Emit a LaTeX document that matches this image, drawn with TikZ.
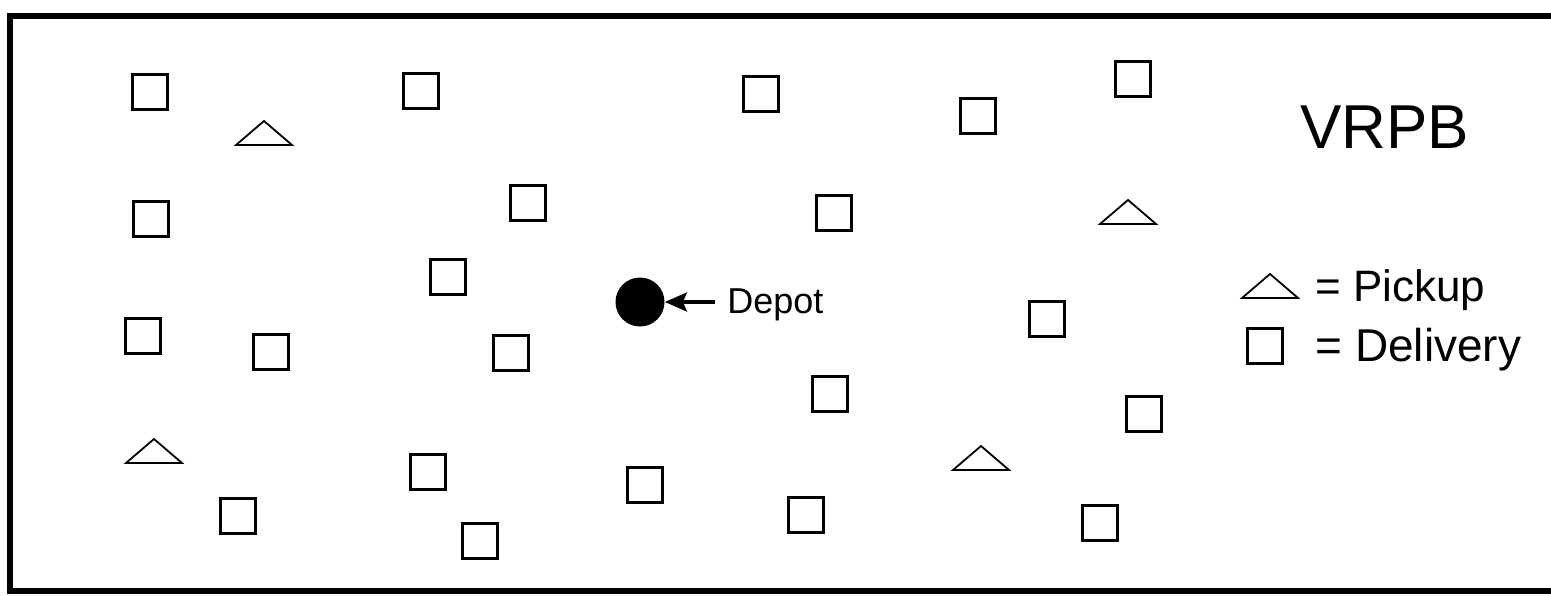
\documentclass[tikz,border=0pt]{standalone}
\usepackage{fontspec}
\setmainfont{Liberation Sans}
\usetikzlibrary{arrows.meta}

\begin{document}
\begin{tikzpicture}[x=0.5pt, y=-0.5pt, >={Stealth[length=11pt, width=9.5pt, inset=2pt]},
			delivery/.style={draw, line width=1.2pt, minimum size=17.6pt, inner sep=0pt},
			depot/.style={circle, fill=black, minimum size=24.5pt, inner sep=0pt},
			pickup/.pic={\draw[line width=0.9pt, line join=miter] (-28,12) -- (0,-12) -- (28,12) -- cycle;},
			frame/.style={line width=2.6pt},
			label/.style={inner sep=0pt, anchor=base west} ]
			\useasboundingbox (0,0) rectangle (1551,595);
			
			%Moldura (sem lado direito)
			\coordinate (TL) at (10,16);
			\coordinate (TR) at (1551,16);
			\coordinate (BL) at (10,591);
			\coordinate (BR) at (1551,591);
			\draw[frame] (TR) -- (TL) -- (BL) -- (BR);
			
			%Clientes de entrega:
			\foreach \x/\y [count=\i] in {150/92, 421/91, 761/94, 978/116, 1133/79,
				151/219, 528/203, 834/213, 448/277,
				143/336, 271/352, 511/353, 1047/319,
				830/394, 1144/414,
				428/472, 645/485, 238/516, 480/541, 806/515, 1100/523}
				\node[delivery] (d\i) at (\x,\y) {};
			
			%Clientes de coleta:
			\foreach \x/\y [count=\i] in {264/133, 1128/212, 154/451, 981/458}
				\pic (p\i) at (\x,\y) {pickup};
			
			%Deposito
			\node[depot] (depot) at (640,302) {};
			\node[label, font=\fontsize{18pt}{20pt}\selectfont] (lbl) at (727,313) {Depot};
			\draw[->, line width=1.7pt] ([xshift=-6pt]depot -| lbl.west) -- (depot);
			
			%Titulo e legenda
			\node[label, font=\fontsize{31pt}{34pt}\selectfont] (title) at (1300,148) {VRPB};
			\pic (pl) at (1270,286) {pickup};
			\node[delivery] (dl) at (1265,346) {};
			\node[label, font=\fontsize{22pt}{24pt}\selectfont] (pick) at (1315,301) {= Pickup};
			\node[label, font=\fontsize{23pt}{25pt}\selectfont] (deliv) at (1315,361) {= Delivery};
		\end{tikzpicture}
\end{document}
